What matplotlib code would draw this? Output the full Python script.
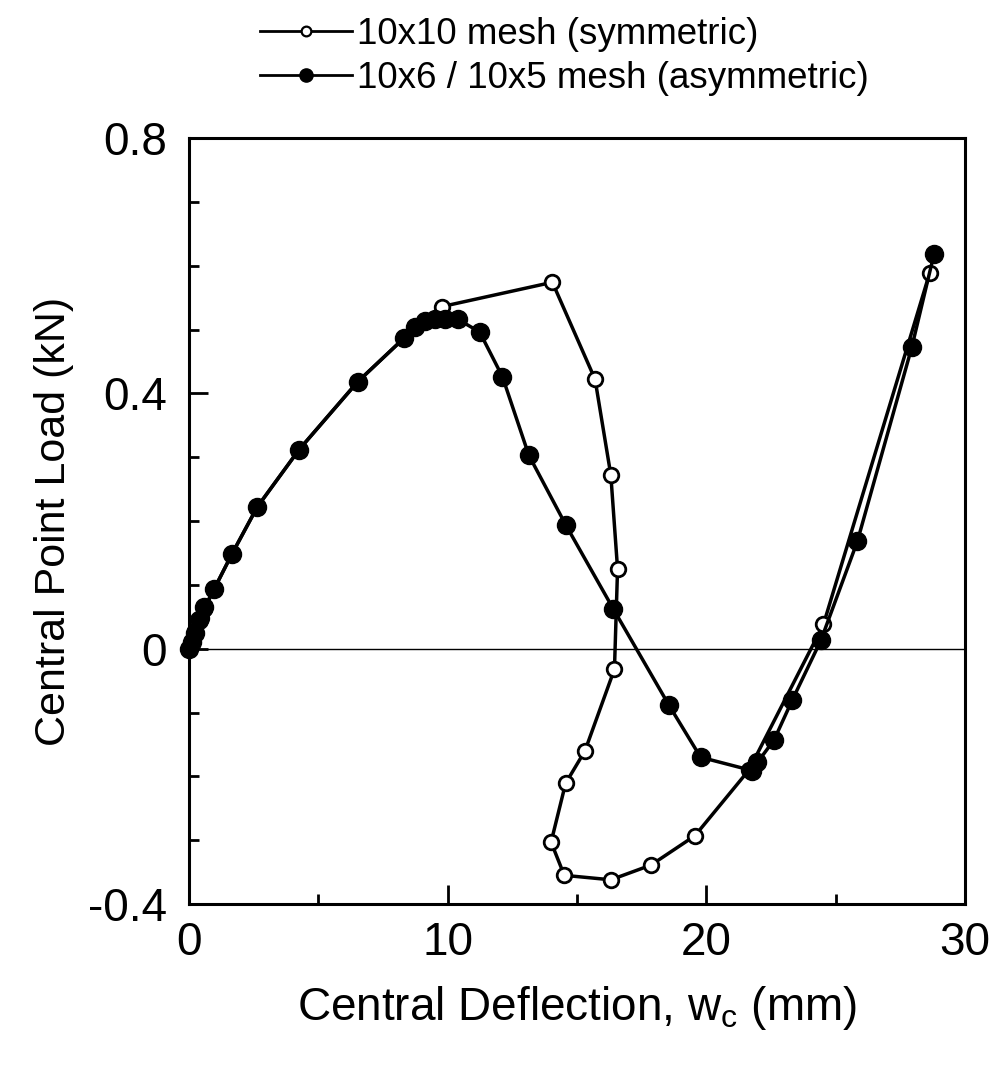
import matplotlib
matplotlib.use("Agg")
import matplotlib.pyplot as plt
from matplotlib.lines import Line2D
from matplotlib.ticker import MultipleLocator

plt.rcParams['font.family'] = ['Liberation Sans', 'DejaVu Sans']
plt.rcParams['mathtext.default'] = 'regular'

# 10x10 mesh (symmetric) - open circles
sym_x = [0.0, 0.1, 0.25, 0.45, 0.6, 0.98, 1.67, 2.64, 4.26, 6.52, 8.30, 9.79,
         14.05, 15.70, 16.31, 16.57, 16.45, 15.31, 14.56, 14.00, 14.51, 16.31,
         17.86, 19.56, 21.65, 24.53, 28.64]
sym_y = [0.0, 0.012, 0.028, 0.048, 0.062, 0.094, 0.149, 0.222, 0.312, 0.418, 0.486, 0.536,
         0.574, 0.422, 0.272, 0.125, -0.032, -0.160, -0.211, -0.303, -0.355, -0.362,
         -0.339, -0.293, -0.190, 0.038, 0.589]

# 10x6 / 10x5 mesh (asymmetric) - filled circles
asym_x = [0.0, 0.1, 0.25, 0.4, 0.6, 0.98, 1.67, 2.64, 4.26, 6.52, 8.30, 8.74, 9.11,
          9.50, 9.88, 10.40, 11.24, 12.12, 13.14, 14.58, 16.41, 18.55, 19.78,
          21.78, 21.98, 22.62, 23.33, 24.43, 25.84, 27.95, 28.81]
asym_y = [0.0, 0.010, 0.025, 0.045, 0.065, 0.094, 0.149, 0.222, 0.312, 0.418, 0.486, 0.504, 0.513,
          0.517, 0.517, 0.516, 0.496, 0.426, 0.303, 0.193, 0.062, -0.088, -0.170,
          -0.191, -0.178, -0.143, -0.080, 0.013, 0.168, 0.473, 0.619]

labels = ["10x10 mesh (symmetric)", "10x6 / 10x5 mesh (asymmetric)"]
x_ticks = [0, 10, 20, 30]
y_ticks = [-0.4, 0, 0.4, 0.8]
y_ticklabels = ["-0.4", "0", "0.4", "0.8"]

fig = plt.figure(figsize=(10.02, 10.69), dpi=100)
ax = fig.add_axes([0.1886, 0.1543, 0.963 - 0.1886, 0.8709 - 0.1543])

ax.axhline(0, color='black', lw=1.0, zorder=1)
ax.plot(sym_x, sym_y, color='black', lw=2.5, marker='o', ms=10.5, mfc='white',
        mec='black', mew=2.0, zorder=3, clip_on=False)
ax.plot(asym_x, asym_y, color='black', lw=2.5, marker='o', ms=13, mfc='black',
        mec='black', zorder=4, clip_on=False)

ax.set_xlim(0, 30)
ax.set_ylim(-0.4, 0.8)
ax.set_xticks(x_ticks)
ax.set_yticks(y_ticks)
ax.set_yticklabels(y_ticklabels)
ax.xaxis.set_minor_locator(MultipleLocator(5))
ax.yaxis.set_minor_locator(MultipleLocator(0.1))
ax.tick_params(which='both', direction='in', top=False, right=False, width=2, color='black')
ax.tick_params(which='major', length=14, labelsize=33, pad=12)
ax.tick_params(which='minor', length=7)
ax.tick_params(axis='y', which='major', pad=16)
for s in ax.spines.values():
    s.set_linewidth(2.2)

ax.set_xlabel("Central Deflection, w$_{c}$ (mm)", fontsize=33, labelpad=14)
ax.set_ylabel("Central Point Load (kN)", fontsize=31, labelpad=10)

handles = [
    Line2D([], [], color='black', lw=2.0, marker='o', ms=7, mfc='white', mec='black', mew=1.6),
    Line2D([], [], color='black', lw=2.0, marker='o', ms=9.5, mfc='black', mec='black'),
]
fig.legend(handles, labels, loc='upper left', bbox_to_anchor=(0.237, 1.005),
           frameon=False, fontsize=26.5, handlelength=2.5, handletextpad=0.15,
           labelspacing=0.25, borderaxespad=0.2)

fig.savefig("out.png", dpi=100)
